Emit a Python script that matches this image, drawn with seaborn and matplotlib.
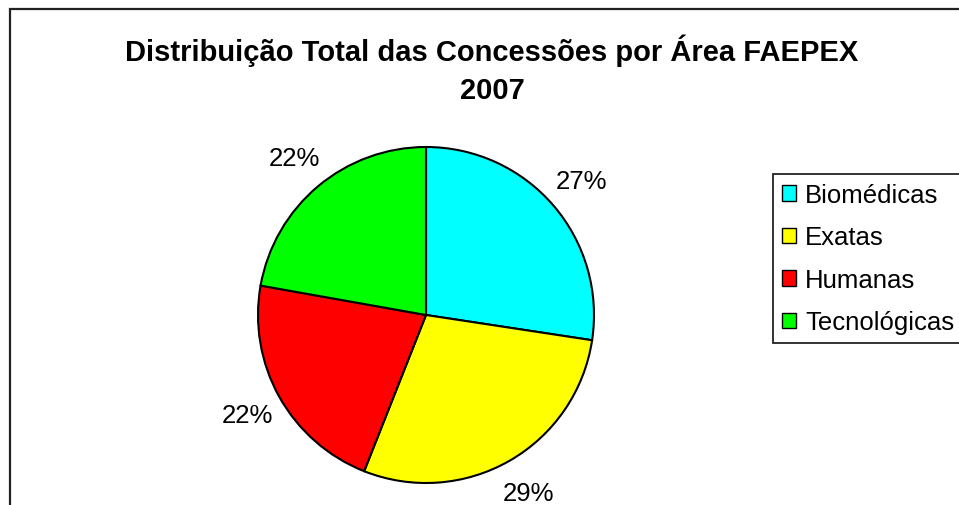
import matplotlib
matplotlib.use("Agg")
import matplotlib.pyplot as plt
import matplotlib.patches as mpatches
import seaborn as sns

areas = ["Biomédicas", "Exatas", "Humanas", "Tecnológicas"]
shares = [27.4, 28.6, 21.8, 22.2]
colors = ["#00FFFF", "#FFFF00", "#FF0000", "#00FF00"]
title = "Distribuição Total das Concessões por Área FAEPEX\n2007"

sns.set_theme(style="white")
plt.rcParams["font.family"] = ["Liberation Sans", "DejaVu Sans"]
plt.rcParams["text.color"] = "black"

W, H = 959, 506
fig = plt.figure(figsize=(W / 100, H / 100), dpi=100)
fig.patch.set_facecolor("white")

# chart area frame (runs off the right and bottom edges)
fig.patches.append(mpatches.Rectangle((10 / W, -0.1), 1.2, 1 - 10 / H + 0.1,
                                      transform=fig.transFigure, fill=False,
                                      edgecolor="#222222", linewidth=1.6))

# pie axes placed so the disc spans its box
ax = fig.add_axes([258 / W, (H - 484) / H, 336 / W, 336 / H])
wedges, texts, autotexts = ax.pie(
    shares, colors=colors, startangle=90, counterclock=False,
    autopct="%1.0f%%", pctdistance=1.22,
    wedgeprops={"edgecolor": "black", "linewidth": 1.5},
    textprops={"fontsize": 18.5, "color": "black"},
)
ax.set_xlim(-1, 1)
ax.set_ylim(-1, 1)
ax.set_aspect("equal")
ax.axis("off")

fig.text(492 / W, 1 - 70 / H, title, ha="center", va="center",
         fontsize=21, fontweight="bold", linespacing=1.45, color="black")

handles = [mpatches.Patch(facecolor=c, edgecolor="black", linewidth=1, label=a)
           for a, c in zip(areas, colors)]
leg = fig.legend(handles=handles, loc="upper left",
                 bbox_to_anchor=(773 / W, 1 - 175 / H), fontsize=18.5,
                 frameon=True, fancybox=False, framealpha=1, edgecolor="#222222",
                 handlelength=0.55, handleheight=0.55, handletextpad=0.35,
                 labelspacing=0.72, borderpad=0.35, borderaxespad=0)
leg.get_frame().set_linewidth(1.3)
for t in leg.get_texts():
    t.set_color("black")

fig.savefig("out.png", dpi=100)
